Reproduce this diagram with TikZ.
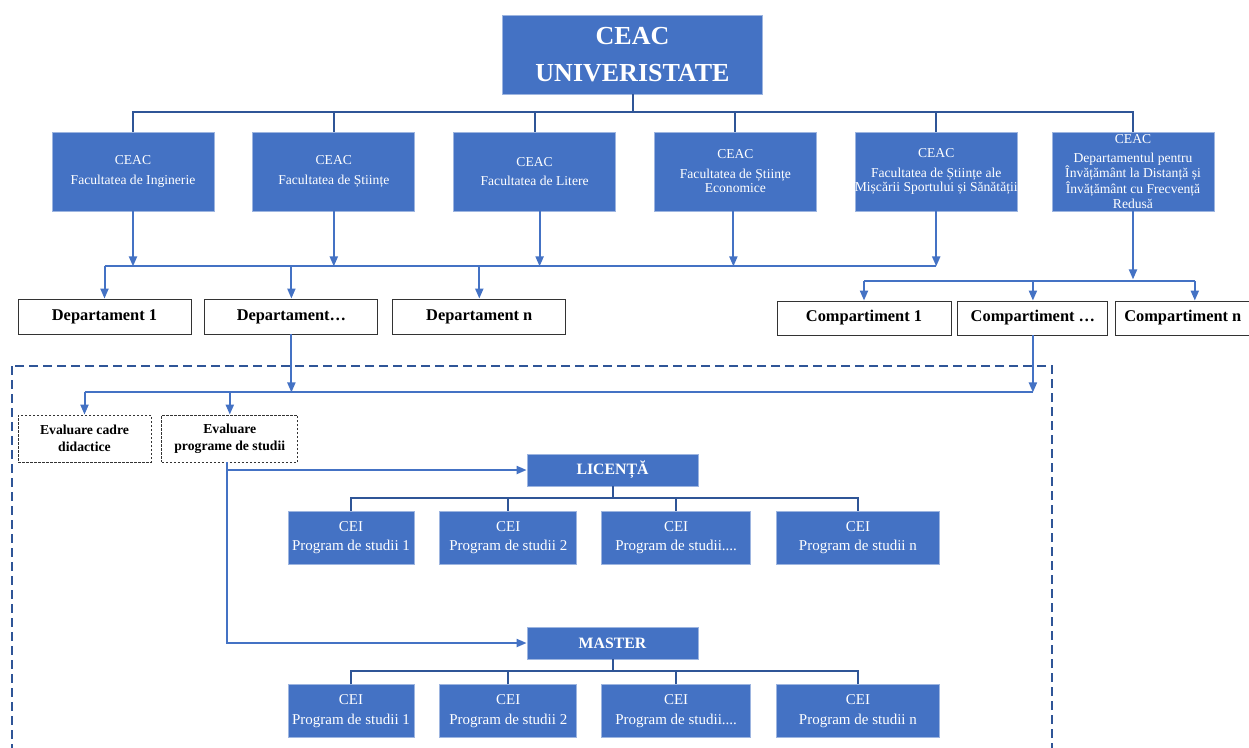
\documentclass[tikz,border=0pt]{standalone}
\usepackage{fontspec}
\setmainfont{Liberation Serif}
\usepackage{tikz}
\usetikzlibrary{positioning,arrows.meta}
\definecolor{boxblue}{HTML}{4472C4}
\definecolor{boxedge}{HTML}{9DB5E0}
\definecolor{linedark}{HTML}{2F5597}

\begin{document}
\begin{tikzpicture}[
      x=1pt, y=1pt,
      bluebox/.style={draw=boxedge, fill=boxblue, text=white, line width=0.8pt, inner sep=1pt, align=center},
      topbox/.style={bluebox, minimum width=260pt, minimum height=79pt, font=\bfseries\fontsize{26}{37}\selectfont},
      fac/.style={bluebox, minimum width=162pt, minimum height=79pt, font=\fontsize{13.6}{14.5}\selectfont},
      level/.style={bluebox, minimum width=171pt, minimum height=32pt, font=\bfseries\fontsize{15.8}{18}\selectfont},
      prog/.style={bluebox, minimum height=53pt, font=\fontsize{15}{19.5}\selectfont},
      unit/.style={draw=black!80, line width=0.9pt, fill=white, inner sep=1pt, font=\bfseries\fontsize{16.4}{18}\selectfont},
      evalbox/.style={draw=black!80, line width=0.8pt, dash pattern=on 2.5pt off 1.5pt, inner sep=1pt, align=center,
                      minimum height=47pt, font=\bfseries\fontsize{13.7}{17}\selectfont},
      tree/.style={draw=linedark, line width=2pt},
      busline/.style={draw=boxblue, line width=2pt},
      arr/.style={busline, -{Triangle[length=10pt,width=8pt]}},
      frame/.style={draw=linedark, line width=1.6pt, dash pattern=on 9pt off 5pt}
      ]

      \path[use as bounding box] (0,0) rectangle (1249,-747);

      \node[topbox] (univ) at (632.5,-54.5) {CEAC\\UNIVERISTATE};

      % facultati
      \node[fac] (fac1) at (133,-171.5) {CEAC\\[5pt]Facultatea de Inginerie};
      \node[fac, right=38pt of fac1] (fac2) {CEAC\\[5pt]Facultatea de Științe};
      \node[fac, right=38pt of fac2] (fac3) {CEAC\\[5pt]Facultatea de Litere};
      \node[fac, right=38pt of fac3] (fac4) {CEAC\\[5pt]Facultatea de Științe\\Economice};
      \node[fac, right=38pt of fac4] (fac5) {CEAC\\[5pt]Facultatea de Științe ale\\\makebox[150pt]{Mișcării Sportului și Sănătății}};
      \node[fac] (fac6) at (1133,-171.5) {CEAC\\[4pt]Departamentul pentru\\Învățământ la Distanță și\\Învățământ cu Frecvență\\Redusă};

      \path (univ.south) ++(0,-18) coordinate (topbus);
      \draw[tree] (univ.south) -- (topbus);
      \draw[tree] (fac1.north) |- (fac6.north |- topbus) -- (fac6.north);
      \draw[tree] (fac2.north) -- (fac2.north |- topbus);
      \draw[tree] (fac3.north) -- (fac3.north |- topbus);
      \draw[tree] (fac4.north) -- (fac4.north |- topbus);
      \draw[tree] (fac5.north) -- (fac5.north |- topbus);

      % departamente
      \node[unit, minimum width=173pt, minimum height=35pt] (dept1) at (104.5,-316.5) {Departament 1};
      \node[unit, minimum width=173pt, minimum height=35pt, right=13pt of dept1] (dept2) {Departament…};
      \node[unit, minimum width=173pt, minimum height=35pt, right=14pt of dept2] (dept3) {Departament n};

      \path (fac1.south) ++(0,-55) coordinate (depbus);
      \coordinate (fac3drop) at ([xshift=5pt]fac3.south);
      \coordinate (fac4drop) at ([xshift=-2pt]fac4.south);
      \draw[arr] (fac1.south) -- (fac1.south |- depbus);
      \draw[arr] (fac2.south) -- (fac2.south |- depbus);
      \draw[arr] (fac3drop) -- (fac3drop |- depbus);
      \draw[arr] (fac4drop) -- (fac4drop |- depbus);
      \draw[arr] (fac5.south) -- (fac5.south |- depbus);
      \draw[busline] (dept1.north |- depbus) -- (fac5.south |- depbus);
      \draw[arr] (dept1.north |- depbus) -- (dept1.north);
      \draw[arr] (dept2.north |- depbus) -- (dept2.north);
      \draw[arr] (dept3.north |- depbus) -- (dept3.north);

      % compartimente
      \node[unit, minimum width=174pt, minimum height=34pt] (comp1) at (864,-318) {Compartiment 1};
      \node[unit, minimum width=150pt, minimum height=34pt, right=6pt of comp1] (comp2) {Compartiment …};
      \node[unit, minimum width=134pt, minimum height=34pt, right=7pt of comp2] (comp3) {Compartiment n};

      \path (fac6.south) ++(0,-70) coordinate (compbus);
      \coordinate (comp3drop) at ([xshift=12pt]comp3.north);
      \draw[arr, shorten >=2pt] (fac6.south) -- (compbus);
      \draw[busline] (comp1.north |- compbus) -- (comp3drop |- compbus);
      \draw[arr] (comp1.north |- compbus) -- (comp1.north);
      \draw[arr] (comp2.north |- compbus) -- (comp2.north);
      \draw[arr] (comp3drop |- compbus) -- (comp3drop);

      \draw[frame] (12,-366) rectangle (1052,-760);

      % evaluare
      \node[evalbox, minimum width=133pt] (ev1) at (84.5,-438.5) {Evaluare cadre\\didactice};
      \node[evalbox, minimum width=136pt, right=10pt of ev1] (ev2) {Evaluare\\programe de studii};

      \path (dept2.south) ++(0,-58) coordinate (evbus);
      \draw[arr] (dept2.south) -- (evbus);
      \draw[arr] (comp2.south) -- (comp2.south |- evbus);
      \draw[busline] (ev1.north |- evbus) -- (comp2.south |- evbus);
      \draw[arr] (ev1.north |- evbus) -- (ev1.north);
      \draw[arr] (ev2.north |- evbus) -- (ev2.north);

      % licenta si master
      \node[level] (lic) at (612.5,-470) {LICENȚĂ};
      \node[level] (master) at (612.5,-643) {MASTER};

      \coordinate (evout) at ([xshift=-3pt]ev2.south);
      \draw[arr] (evout) |- (lic.west);
      \draw[arr] (evout) |- (master.west);

      \node[prog, minimum width=126pt] (lp1) at (351,-537.5) {CEI\\Program de studii 1};
      \node[prog, minimum width=137pt, right=25pt of lp1] (lp2) {CEI\\Program de studii 2};
      \node[prog, minimum width=149pt, right=24pt of lp2] (lp3) {CEI\\Program de studii....};
      \node[prog, minimum width=163pt, right=25pt of lp3] (lp4) {CEI\\Program de studii n};

      \node[prog, minimum width=126pt, below=120pt of lp1] (mp1) {CEI\\Program de studii 1};
      \node[prog, minimum width=137pt, below=120pt of lp2] (mp2) {CEI\\Program de studii 2};
      \node[prog, minimum width=149pt, below=120pt of lp3] (mp3) {CEI\\Program de studii....};
      \node[prog, minimum width=163pt, below=120pt of lp4] (mp4) {CEI\\Program de studii n};

      \path (lic.south) ++(0,-12) coordinate (licbus);
      \draw[tree] (lic.south) -- (licbus);
      \draw[tree] (lp1.north) |- (lp4.north |- licbus) -- (lp4.north);
      \draw[tree] (lp2.north) -- (lp2.north |- licbus);
      \draw[tree] (lp3.north) -- (lp3.north |- licbus);

      \path (master.south) ++(0,-12) coordinate (mbus);
      \draw[tree] (master.south) -- (mbus);
      \draw[tree] (mp1.north) |- (mp4.north |- mbus) -- (mp4.north);
      \draw[tree] (mp2.north) -- (mp2.north |- mbus);
      \draw[tree] (mp3.north) -- (mp3.north |- mbus);
\end{tikzpicture}
\end{document}
